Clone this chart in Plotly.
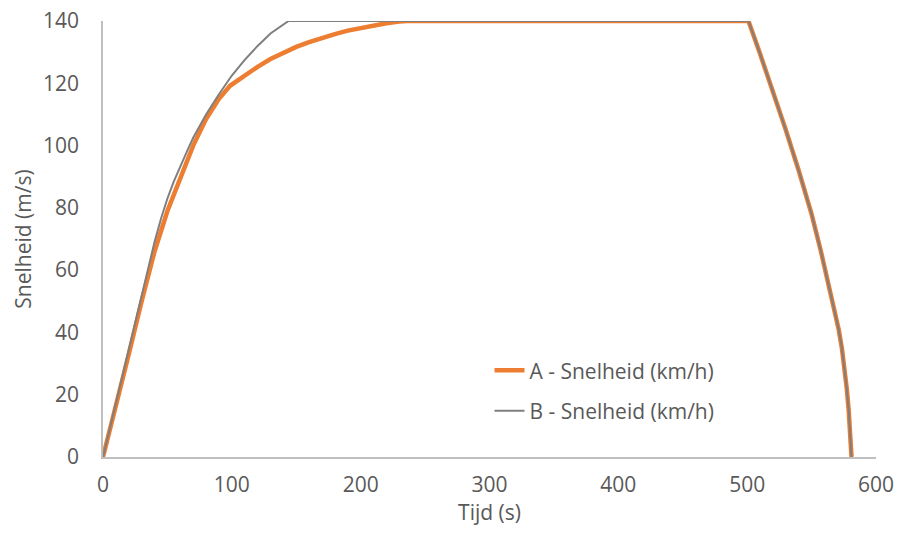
import plotly.graph_objects as go

# Series A - Snelheid (km/h)
a_time = [0, 10, 20, 30, 40, 50, 60, 70, 80, 90, 98.6,
          110, 120, 130, 140, 150, 160, 170, 180, 190, 200, 210, 220, 230, 236,
          300, 400, 501,
          510, 520, 530, 540, 550, 557, 563, 568, 571, 573.5, 575.5, 577.3, 578.8, 580, 581]
a_speed = [0, 16, 33, 50, 66, 79, 90, 100, 108.5, 115, 119.2,
           122.5, 125.3, 127.8, 129.9, 131.7, 133.2, 134.6, 135.8, 136.9, 137.8, 138.6, 139.3, 139.8, 140,
           140, 140, 140,
           129.5, 117.5, 105, 92, 78, 66.5, 55.5, 47, 41, 35, 29, 22, 15, 8, 0]

# Series B - Snelheid (km/h)
b_time = [0, 10, 20, 30, 40, 45, 50, 55, 60, 65, 70, 75, 80, 90, 100,
          110, 120, 130, 140, 144,
          300, 400, 501,
          510, 520, 530, 540, 550, 557, 563, 568, 571, 573.5, 575.5, 577.3, 578.8, 580, 581]
b_speed = [0, 17.5, 35, 52, 69, 76.5, 83, 88.5, 93.5, 98, 102.5, 106.5, 110, 116.5, 122.5,
           127.5, 132, 136, 139, 140,
           140, 140, 140,
           129.5, 117.5, 105, 92, 78, 66.5, 55.5, 47, 41, 35, 29, 22, 15, 8, 0]

x_ticks = [0, 100, 200, 300, 400, 500, 600]
y_ticks = [0, 20, 40, 60, 80, 100, 120, 140]

FONT = "'Open Sans', Lato, sans-serif"
TXT = "#595959"
FS = 21

fig = go.Figure()
fig.add_trace(go.Scatter(x=a_time, y=a_speed, mode="lines",
                         name="A - Snelheid (km/h)", legendgroup="a",
                         line=dict(color="#ED7D31", width=4.5)))
fig.add_trace(go.Scatter(x=b_time, y=b_speed, mode="lines",
                         name="B - Snelheid (km/h)", legendgroup="b",
                         line=dict(color="#7F7F7F", width=2)))

fig.update_layout(
    width=903, height=538,
    margin=dict(l=103, r=27, t=21, b=81, autoexpand=False),
    paper_bgcolor="white", plot_bgcolor="white",
    font=dict(family=FONT, size=FS, color=TXT),
    showlegend=True,
    legend=dict(x=0.5, y=0.245, xanchor="left", yanchor="top",
                bgcolor="rgba(0,0,0,0)", font=dict(size=FS, color=TXT),
                traceorder="grouped", tracegroupgap=10,
                itemwidth=30),
    xaxis=dict(range=[0, 600], tickvals=x_ticks, showgrid=False, zeroline=False,
               showline=True, linecolor="#BFBFBF", linewidth=1.5,
               ticks="", ticklabelstandoff=8, automargin=False,
               title=dict(text="Tijd (s)", font=dict(size=FS, color=TXT), standoff=4)),
    yaxis=dict(range=[0, 140], tickvals=y_ticks, showgrid=False, zeroline=False,
               showline=True, linecolor="#BFBFBF", linewidth=1.5,
               ticks="", ticklabelstandoff=18, automargin=False,
               title=dict(text="Snelheid (m/s)", font=dict(size=FS, color=TXT), standoff=6)),
)

fig.write_html("out.html")
